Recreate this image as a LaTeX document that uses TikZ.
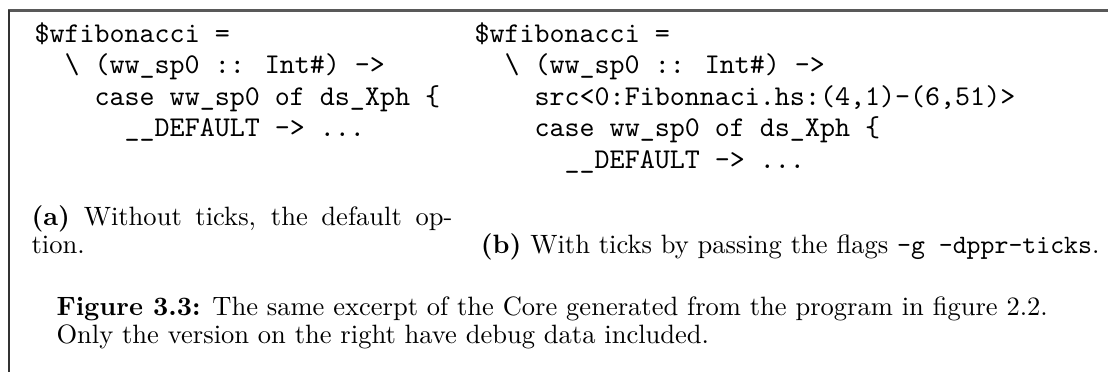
\documentclass[tikz,border=0pt]{standalone}
\usepackage{fontspec}
\newcommand{\codefont}{\fontsize{10.3}{12}\selectfont\ttfamily}
\newcommand{\capfont}{\fontsize{9.55}{11.5}\selectfont}
\begin{document}
\begin{tikzpicture}[x=0.36pt, y=-0.36pt,
    code/.style={anchor=base west, inner sep=0pt, font=\codefont},
    capt/.style={anchor=base west, inner sep=0pt, font=\capfont}]
    \useasboundingbox (0,0) rectangle (1108,372);
    \draw[line width=0.8pt, black!65] (8,10.5) -- (1108,10.5);
    \draw[line width=0.4pt, black!80] (9,10) -- (9,372);
    % left: without ticks
    \node[code] (la1) at (34, 42) {\$wfibonacci =};
    \node[code] (la2) at (34, 73.5) {\phantom{xx}\textbackslash{} (ww\_sp0 :: Int\#) ->};
    \node[code] (la3) at (34,105) {\phantom{xxxx}case ww\_sp0 of ds\_Xph \{};
    \node[code] (la4) at (34,136.5) {\phantom{xxxxxx}\_\_DEFAULT -> ...};
    % right: with ticks
    \node[code] (rb1) at (474, 42) {\$wfibonacci =};
    \node[code] (rb2) at (474, 73.5) {\phantom{xx}\textbackslash{} (ww\_sp0 :: Int\#) ->};
    \node[code] (rb3) at (474,105) {\phantom{xxxx}src<0:Fibonnaci.hs:(4,1)-(6,51)>};
    \node[code] (rb4) at (474,136.5) {\phantom{xxxx}case ww\_sp0 of ds\_Xph \{};
    \node[code] (rb5) at (474,168) {\phantom{xxxxxx}\_\_DEFAULT -> ...};
    % sub captions
    \node[capt] (capa1) at (31,225) {\makebox[151.5pt][s]{\textbf{(a)} Without ticks, the default op-}};
    \node[capt] (capa2) at (31,253) {tion.};
    \node[capt, anchor=base east] (capb) at (1100,253) {\textbf{(b)} With ticks by passing the flags \texttt{-g -dppr-ticks}.};
    % figure caption
    \node[capt] (fig1) at (56,315) {\textbf{Figure 3.3:} The same excerpt of the Core generated from the program in figure 2.2.};
    \node[capt] (fig2) at (56,343) {Only the version on the right have debug data included.};
\end{tikzpicture}
\end{document}
